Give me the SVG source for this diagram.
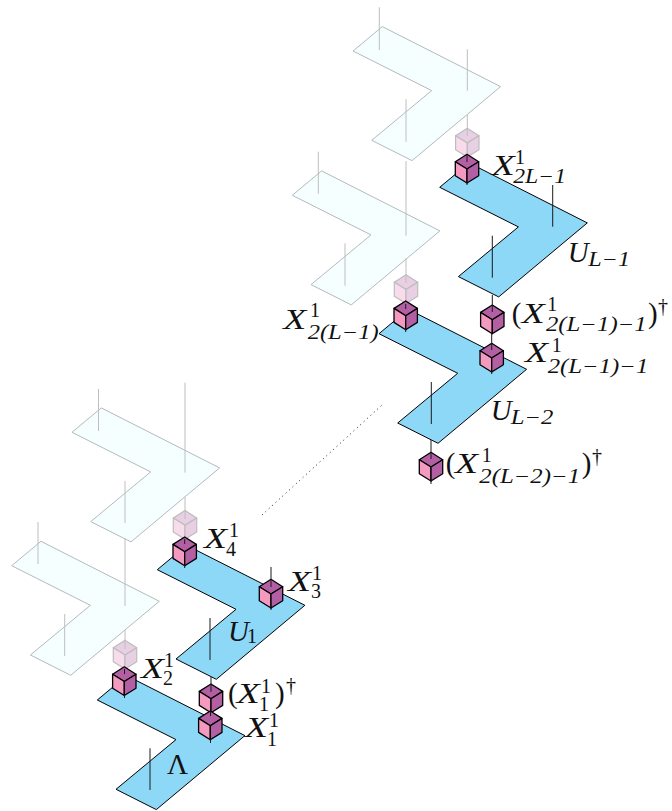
<svg xmlns="http://www.w3.org/2000/svg" width="672" height="811" viewBox="0 0 672 811">
<style>
.plate{fill:#8dd7f7;stroke:#000;stroke-width:1;stroke-linejoin:round}
.gplate{fill:#f5ffff;stroke:#b4baba;stroke-width:1;stroke-linejoin:round}
.k{stroke:#1a1a1a;stroke-width:1;fill:none}
.g{stroke:#bebebe;stroke-width:1;fill:none}
.t{font-family:"Liberation Serif",serif;font-size:29px;fill:#111}
.i{font-style:italic}
.s{font-size:20px;font-style:normal}
.si{font-size:20px;font-style:italic}
.l{fill:#f49ac1}.c{fill:#b35fa3}
.cube path{stroke:#000;stroke-width:1.3;stroke-linejoin:round}
.ghost path{stroke:#bdbdbd;stroke-width:1.2;stroke-linejoin:round}
.ghost .l{fill:#f9dcec}.ghost .c{fill:#e8cfe4}
</style>
<defs>
<path id="ch" d="M0 0L29.3 -24.4L147.6 35.6L59 109.6L18.7 89.3L78.7 39.6Z"/>
<g id="cb" class="cube"><path class="c" d="M0 -14.7L-11.7 -7.3L0 0L11.7 -7.3Z"/><path class="l" d="M-11.7 -7.3L0 0L0 14L-11.7 6.7Z"/><path class="c" d="M11.7 -7.3L0 0L0 14L11.7 6.7Z"/></g>
<g id="gb" class="ghost"><path class="c" d="M0 -14.7L-11.7 -7.3L0 0L11.7 -7.3Z"/><path class="l" d="M-11.7 -7.3L0 0L0 14L-11.7 6.7Z"/><path class="c" d="M11.7 -7.3L0 0L0 14L11.7 6.7Z"/></g>
</defs>
<g id="ghost-top-upper"><use href="#ch" class="gplate" x="353" y="51"/></g>
<g id="ghost-top-lower"><use href="#ch" class="gplate" x="292.3" y="195.3"/></g>
<g id="ghost-bottom-upper"><use href="#ch" class="gplate" x="72" y="432.3"/></g>
<g id="ghost-bottom-lower"><use href="#ch" class="gplate" x="11.7" y="565.7"/></g>
<g id="plate-UL1"><use href="#ch" class="plate" x="439.7" y="187.3"/>
<text class="t" x="567.7" y="261.7"><tspan class="i">U</tspan><tspan class="si" x="588.3" y="265.7" textLength="41.7" lengthAdjust="spacingAndGlyphs">L−1</tspan></text></g>
<g id="plate-UL2"><use href="#ch" class="plate" x="379" y="333.7"/>
<text class="t" x="490.7" y="420"><tspan class="i">U</tspan><tspan class="si" x="510.7" y="424.3" textLength="42.7" lengthAdjust="spacingAndGlyphs">L−2</tspan></text></g>
<g id="plate-U1"><use href="#ch" class="plate" x="157.3" y="569.7"/>
<text class="t" x="228" y="641"><tspan class="i">U</tspan><tspan class="s" x="247" y="643">1</tspan></text></g>
<g id="plate-Lambda"><use href="#ch" class="plate" x="97.3" y="700"/>
<text class="t" x="167" y="774">Λ</text></g>
<g id="ghost-cubes"><use href="#gb" x="125" y="655"/><use href="#gb" x="185" y="525.3"/><use href="#gb" x="467.3" y="143"/><use href="#gb" x="406" y="289.5"/></g>
<g id="cube-X2L1"><use href="#cb" x="467" y="169"/>
<text class="t" x="491.7" y="175"><tspan class="i" textLength="23" lengthAdjust="spacingAndGlyphs">X</tspan><tspan class="s" x="515" y="163.5">1</tspan><tspan class="si" x="513.3" y="182.7" textLength="52.7" lengthAdjust="spacingAndGlyphs">2L−1</tspan></text></g>
<g id="cube-X2L1a"><use href="#cb" x="405.7" y="315.7"/>
<text class="t" x="283.3" y="329.3"><tspan class="i" textLength="23" lengthAdjust="spacingAndGlyphs">X</tspan><tspan class="s" x="310" y="317.3">1</tspan><tspan class="si" x="307.7" y="339.3" textLength="71" lengthAdjust="spacingAndGlyphs">2(L−1)</tspan></text></g>
<g id="cube-X2L1b-dagger"><use href="#cb" x="492.3" y="319.7"/>
<text class="t" x="511.7" y="323.3">(<tspan class="i" x="521.7" textLength="23" lengthAdjust="spacingAndGlyphs">X</tspan><tspan class="s" x="547.3" y="310.7">1</tspan><tspan class="si" x="546" y="330.7" textLength="100.7" lengthAdjust="spacingAndGlyphs">2(L−1)−1</tspan><tspan x="648" y="323.3">)</tspan><tspan class="s" x="658" y="313">†</tspan></text></g>
<g id="cube-X2L1b"><use href="#cb" x="491.7" y="358"/>
<text class="t" x="525" y="361.7"><tspan class="i" textLength="23" lengthAdjust="spacingAndGlyphs">X</tspan><tspan class="s" x="551.7" y="351.7">1</tspan><tspan class="si" x="547.7" y="372.7" textLength="100.7" lengthAdjust="spacingAndGlyphs">2(L−1)−1</tspan></text></g>
<g id="cube-X2L2-dagger"><use href="#cb" x="431" y="467"/>
<text class="t" x="445.7" y="473.3">(<tspan class="i" x="455" textLength="23" lengthAdjust="spacingAndGlyphs">X</tspan><tspan class="s" x="481.7" y="461.7">1</tspan><tspan class="si" x="479.3" y="483.3" textLength="100.7" lengthAdjust="spacingAndGlyphs">2(L−2)−1</tspan><tspan x="581.7" y="473.3">)</tspan><tspan class="s" x="592" y="463">†</tspan></text></g>
<g id="cube-X4"><use href="#cb" x="184.7" y="551.7"/>
<text class="t" x="204" y="548"><tspan class="i" textLength="23" lengthAdjust="spacingAndGlyphs">X</tspan><tspan class="s" x="229" y="537">1</tspan><tspan class="s" x="226" y="555.7">4</tspan></text></g>
<g id="cube-X3"><use href="#cb" x="271" y="594"/>
<text class="t" x="288" y="590.7"><tspan class="i" textLength="23" lengthAdjust="spacingAndGlyphs">X</tspan><tspan class="s" x="312" y="580">1</tspan><tspan class="s" x="311" y="598">3</tspan></text></g>
<g id="cube-X2"><use href="#cb" x="124.3" y="681.5"/>
<text class="t" x="141" y="677.7"><tspan class="i" textLength="23" lengthAdjust="spacingAndGlyphs">X</tspan><tspan class="s" x="164" y="666.7">1</tspan><tspan class="s" x="163" y="685">2</tspan></text></g>
<g id="cube-X1-dagger"><use href="#cb" x="211" y="698.7"/>
<text class="t" x="228" y="703">(<tspan class="i" x="236.7" textLength="23" lengthAdjust="spacingAndGlyphs">X</tspan><tspan class="s" x="261" y="692.7">1</tspan><tspan class="s" x="259" y="710.7">1</tspan><tspan x="275" y="703">)</tspan><tspan class="s" x="286" y="692">†</tspan></text></g>
<g id="cube-X1"><use href="#cb" x="210.3" y="725.7"/>
<text class="t" x="245" y="736.7"><tspan class="i" textLength="23" lengthAdjust="spacingAndGlyphs">X</tspan><tspan class="s" x="269" y="726.7">1</tspan><tspan class="s" x="267" y="745.7">1</tspan></text></g>
<g id="connectors">
<path class="g" d="M379.3 7.3V50M467.3 49.3V90.7M406 99.3V141.7M318.3 151.7V193.7M345 243.3V285.7M406 161V235.7M406 258V283M467.3 115V136M98.5 389V431M185 382.7V472.7M125 481V523M38 522V564M64.7 614V656M125 538V606M125 630V649M185 497V519"/>
<path class="k" d="M150 748.3V790M210 618V660M552.7 185V226.7M492.3 235.7V277.7M431.3 382V424M124.5 669V674M124.5 695V698M210.5 712V716M210.5 739V743M211 677V692M184.7 539V544M184.7 565V568M271 567V587M271 607V610M467 155V162M467 182V185M405.7 304V309M405.7 329V332M492.3 295V312M491.7 334V350M491.7 371V374M431 440V459M431 480V484"/>
<path d="M262 515L382 405" stroke="#222" stroke-width="1" stroke-dasharray="1 3.6" fill="none"/>
</g>
</svg>
